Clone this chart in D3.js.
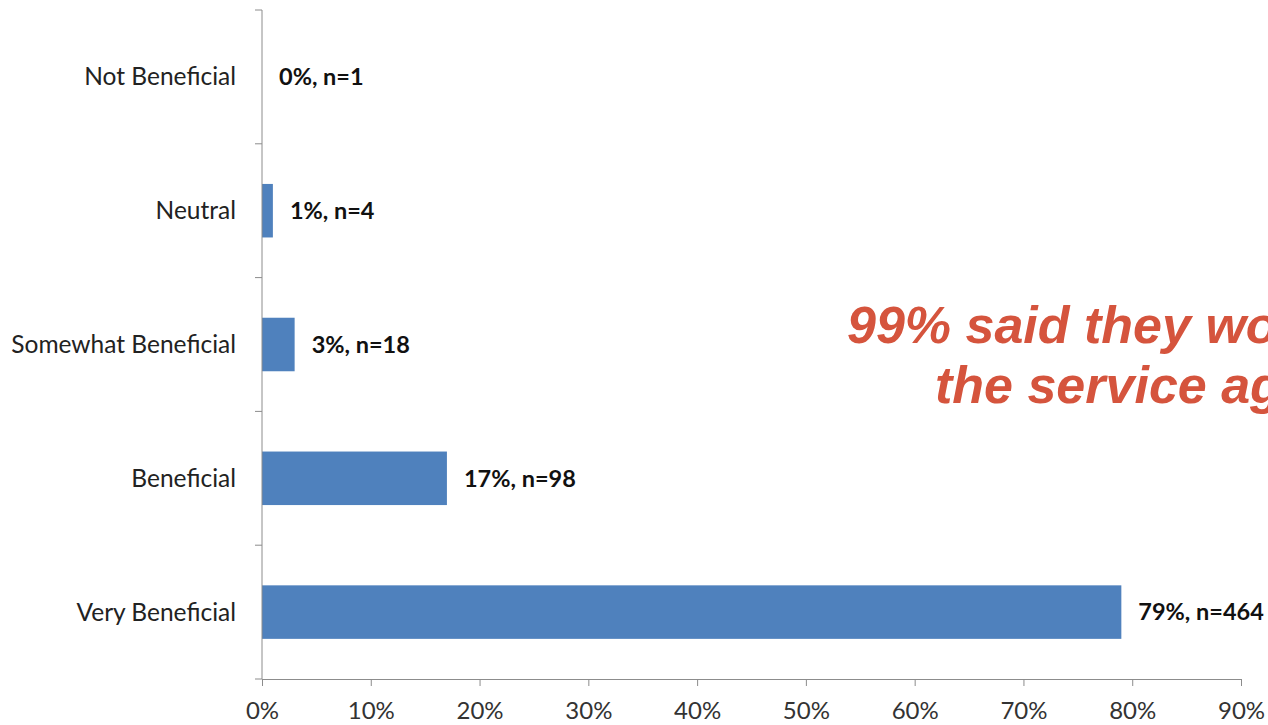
<!DOCTYPE html>
<html>
<head>
<meta charset="utf-8">
<script src="https://cdn.jsdelivr.net/npm/d3@7"></script>
<style>
  html, body { margin: 0; padding: 0; background: #fff; overflow: hidden; }
  .cat text { font-family: Lato, "Open Sans", sans-serif; font-size: 24.5px; fill: #222; }
  .val { font-family: Lato, "Open Sans", sans-serif; font-size: 23.5px; font-weight: bold; fill: #111; }
  .xax text { font-family: Lato, "Open Sans", sans-serif; font-size: 24px; fill: #333; }
  .note { font-family: "Liberation Sans", Arial, sans-serif; font-size: 52px; font-weight: bold; font-style: italic; fill: #d5543d; }
</style>
</head>
<body>
<div id="chart"></div>
<script>
var categories = ['Not Beneficial', 'Neutral', 'Somewhat Beneficial', 'Beneficial', 'Very Beneficial'];
var percents = [0, 1, 3, 17, 79];
var counts = [1, 4, 18, 98, 464];
var xTicks = [0, 10, 20, 30, 40, 50, 60, 70, 80, 90];
var noteLines = ['99% said they would use', 'the service again'];

var width = 1268, height = 725;
var margin = { left: 262, top: 10, right: 27, bottom: 46 };

var svg = d3.select('#chart')
  .append('svg')
    .attr('width', width)
    .attr('height', height);

var x = d3.scaleLinear()
  .domain([0, 90])
  .range([margin.left, width - margin.right]);

var y = d3.scaleBand()
  .domain(categories)
  .range([margin.top, height - margin.bottom])
  .paddingInner(0.6)
  .paddingOuter(0.3);

// bars
svg.selectAll('rect.bar')
  .data(categories)
  .enter().append('rect')
    .attr('class', 'bar')
    .attr('x', x(0))
    .attr('y', function(d){ return y(d); })
    .attr('width', function(d, i){ return x(percents[i]) - x(0); })
    .attr('height', y.bandwidth())
    .attr('fill', '#4f81bd');

// value labels
svg.selectAll('text.val')
  .data(categories)
  .enter().append('text')
    .attr('class', 'val')
    .attr('x', function(d, i){ return x(percents[i]) + 17; })
    .attr('y', function(d){ return y(d) + y.bandwidth() / 2; })
    .attr('dy', '0.35em')
    .text(function(d, i){ return percents[i] + '%, n=' + counts[i]; });

// y axis: line, ticks between categories, labels
var yTop = margin.top, yBot = height - margin.bottom;
var cat = svg.append('g').attr('class', 'cat');
cat.append('line')
  .attr('x1', x(0)).attr('x2', x(0))
  .attr('y1', yTop).attr('y2', yBot)
  .attr('stroke', '#8c8c8c');
var step = y.step();
var bounds = d3.range(categories.length + 1).map(function(i){ return yTop + i * step; });
cat.selectAll('line.tk')
  .data(bounds)
  .enter().append('line')
    .attr('class', 'tk')
    .attr('x1', x(0) - 7).attr('x2', x(0))
    .attr('y1', function(d){ return d; }).attr('y2', function(d){ return d; })
    .attr('stroke', '#8c8c8c');
cat.selectAll('text')
  .data(categories)
  .enter().append('text')
    .attr('x', x(0) - 26)
    .attr('y', function(d){ return y(d) + y.bandwidth() / 2; })
    .attr('dy', '0.35em')
    .attr('text-anchor', 'end')
    .text(function(d){ return d; });

// x axis
var xAxis = svg.append('g')
  .attr('class', 'xax')
  .attr('transform', 'translate(0,' + yBot + ')')
  .call(d3.axisBottom(x).tickValues(xTicks).tickSize(7).tickPadding(16).tickSizeOuter(0)
    .tickFormat(function(d){ return d + '%'; }));
xAxis.select('.domain').attr('stroke', '#8c8c8c');
xAxis.selectAll('.tick line').attr('stroke', '#8c8c8c');
xAxis.selectAll('.tick text').attr('font-family', null).attr('font-size', null);

// annotation (runs off the right edge, as in the source slide)
var note = svg.append('text').attr('class', 'note');
note.append('tspan').attr('x', 847).attr('y', 343).text(noteLines[0]);
note.append('tspan').attr('x', 935).attr('y', 403).text(noteLines[1]);
</script>
</body>
</html>
